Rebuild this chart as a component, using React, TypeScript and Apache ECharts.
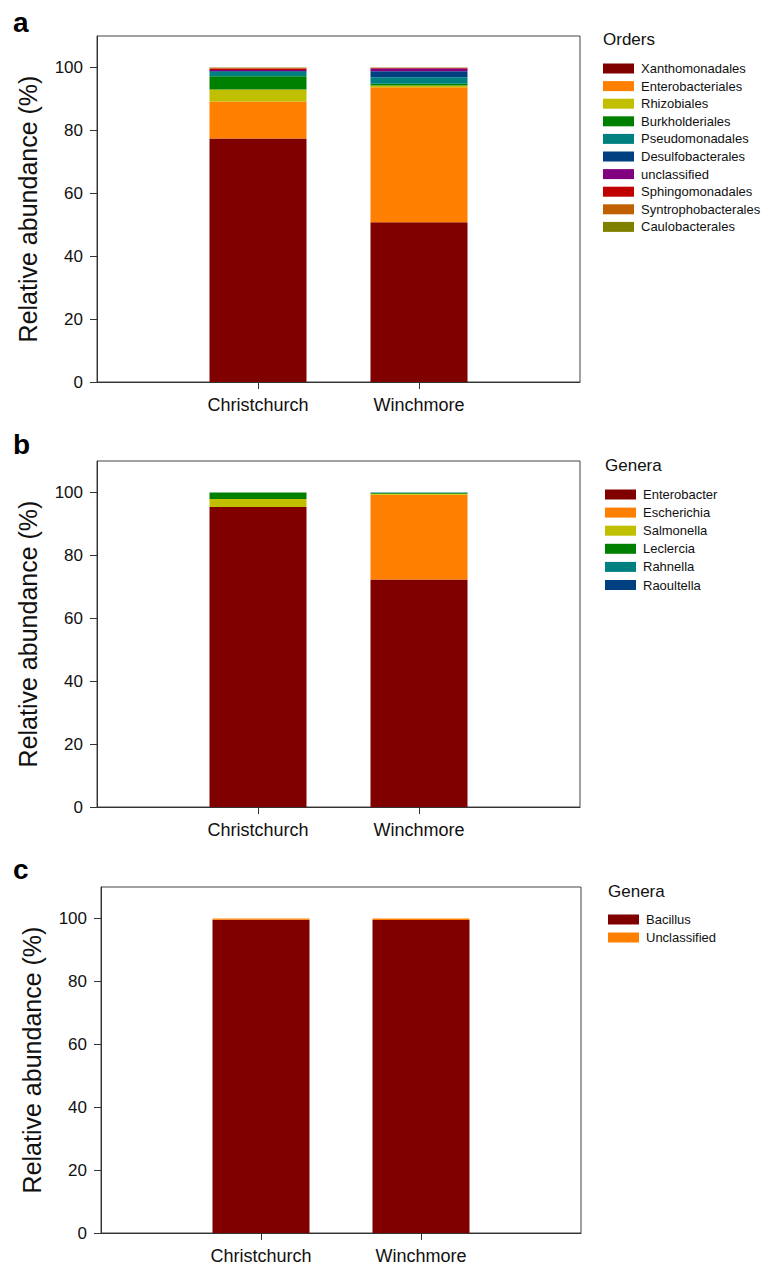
import { useEffect, useRef } from 'react';
import * as echarts from 'echarts';

const FONT = '"Liberation Sans", Arial, Helvetica, sans-serif';

const categories = ['Christchurch', 'Winchmore'];
const yTicks = [0, 20, 40, 60, 80, 100];

// Panel a: Orders
const orderNames = [
  'Xanthomonadales', 'Enterobacteriales', 'Rhizobiales', 'Burkholderiales', 'Pseudomonadales',
  'Desulfobacterales', 'unclassified', 'Sphingomonadales', 'Syntrophobacterales', 'Caulobacterales',
];
const orderColors = [
  '#800000', '#FF8000', '#C0C000', '#008000', '#008080',
  '#004080', '#800080', '#C00000', '#C06000', '#808000',
];
const xanthomonadales = [77.4, 50.8];
const enterobacteriales = [11.8, 42.9];
const rhizobiales = [3.8, 0.6];
const burkholderiales = [4.2, 0.5];
const pseudomonadales = [1.4, 2.1];
const desulfobacterales = [0.3, 1.9];
const unclassifiedOrder = [0.3, 0.9];
const sphingomonadales = [0.5, 0.1];
const syntrophobacterales = [0.2, 0.1];
const caulobacterales = [0.1, 0.1];
const orderValues = [
  xanthomonadales, enterobacteriales, rhizobiales, burkholderiales, pseudomonadales,
  desulfobacterales, unclassifiedOrder, sphingomonadales, syntrophobacterales, caulobacterales,
];

// Panel b: Genera
const generaBNames = ['Enterobacter', 'Escherichia', 'Salmonella', 'Leclercia', 'Rahnella', 'Raoultella'];
const generaBColors = ['#800000', '#FF8000', '#C0C000', '#008000', '#008080', '#004080'];
const enterobacter = [95.4, 72.3];
const escherichia = [0.0, 27.0];
const salmonella = [2.5, 0.3];
const leclercia = [2.1, 0.2];
const rahnella = [0.0, 0.2];
const raoultella = [0.0, 0.0];
const generaBValues = [enterobacter, escherichia, salmonella, leclercia, rahnella, raoultella];

// Panel c: Genera
const generaCNames = ['Bacillus', 'Unclassified'];
const generaCColors = ['#800000', '#FF8000'];
const bacillus = [99.6, 99.5];
const unclassifiedGenus = [0.4, 0.5];
const generaCValues = [bacillus, unclassifiedGenus];

const panels = [
  {
    letter: 'a', letterTop: 8, legendTitle: 'Orders', names: orderNames, colors: orderColors, values: orderValues,
    grid: { left: 97, top: 36, width: 483, height: 346 },
    legendLeft: 603, legendTitleTop: 31, legendTop: 62, legendGap: 4.6,
  },
  {
    letter: 'b', letterTop: 430, legendTitle: 'Genera', names: generaBNames, colors: generaBColors, values: generaBValues,
    grid: { left: 97, top: 461, width: 483, height: 346 },
    legendLeft: 605, legendTitleTop: 457, legendTop: 488, legendGap: 5.1,
  },
  {
    letter: 'c', letterTop: 855, legendTitle: 'Genera', names: generaCNames, colors: generaCColors, values: generaCValues,
    grid: { left: 101, top: 887, width: 480, height: 346 },
    legendLeft: 608, legendTitleTop: 883, legendTop: 913, legendGap: 5,
  },
];

export default function App() {
  const ref = useRef<HTMLDivElement>(null);

  useEffect(() => {
    document.body.style.margin = '0';
    const chart = echarts.init(ref.current as HTMLDivElement, null, { renderer: 'svg' });

    const titles: any[] = [];
    const grids: any[] = [];
    const xAxes: any[] = [];
    const yAxes: any[] = [];
    const legends: any[] = [];
    const series: any[] = [];

    panels.forEach((p, i) => {
      titles.push({
        text: p.letter, left: 13, top: p.letterTop, padding: 0,
        textStyle: { fontFamily: FONT, fontSize: 28, fontWeight: 'bold', color: '#000' },
      });
      titles.push({
        text: p.legendTitle, left: p.legendLeft, top: p.legendTitleTop, padding: 0,
        textStyle: { fontFamily: FONT, fontSize: 17, fontWeight: 'normal', color: '#111' },
      });
      grids.push({ ...p.grid, show: true, borderColor: '#444', borderWidth: 1, backgroundColor: 'transparent' });
      xAxes.push({
        gridIndex: i,
        type: 'category',
        data: ['', ...categories, ''],
        boundaryGap: false,
        axisLine: { show: true, lineStyle: { color: '#333', width: 1 } },
        axisTick: {
          show: true, length: 7, inside: false,
          interval: (_idx: number, val: string) => val !== '',
          lineStyle: { color: '#333' },
        },
        axisLabel: { interval: 0, fontFamily: FONT, fontSize: 18, color: '#111', margin: 14 },
        splitLine: { show: false },
      });
      yAxes.push({
        gridIndex: i,
        type: 'value',
        min: 0,
        max: 110,
        interval: 20,
        name: 'Relative abundance (%)',
        nameLocation: 'middle',
        nameGap: 57,
        nameTextStyle: { fontFamily: FONT, fontSize: 25, color: '#111' },
        axisLine: { show: true, lineStyle: { color: '#333', width: 1 } },
        axisTick: { show: true, length: 7, inside: false, customValues: yTicks, lineStyle: { color: '#333' } },
        axisLabel: { customValues: yTicks, fontFamily: FONT, fontSize: 17, color: '#111', margin: 14 },
        splitLine: { show: false },
      });
      legends.push({
        data: p.names,
        orient: 'vertical',
        left: p.legendLeft,
        top: p.legendTop,
        padding: 0,
        itemWidth: 31,
        itemHeight: 10,
        itemGap: p.legendGap,
        icon: 'rect',
        selectedMode: false,
        textStyle: { fontFamily: FONT, fontSize: 13, color: '#111', lineHeight: 12, padding: [0, 0, 0, 2] },
      });
      p.names.forEach((name, k) => {
        series.push({
          type: 'bar',
          name,
          xAxisIndex: i,
          yAxisIndex: i,
          stack: 'panel' + i,
          barWidth: 97,
          data: ['-', ...p.values[k], '-'],
          itemStyle: { color: p.colors[k] },
          emphasis: { disabled: true },
        });
      });
    });

    chart.setOption({
      animation: false,
      backgroundColor: '#fff',
      title: titles,
      grid: grids,
      xAxis: xAxes,
      yAxis: yAxes,
      legend: legends,
      series,
    });

    return () => chart.dispose();
  }, []);

  return <div ref={ref} style={{ width: 775, height: 1267 }} />;
}
